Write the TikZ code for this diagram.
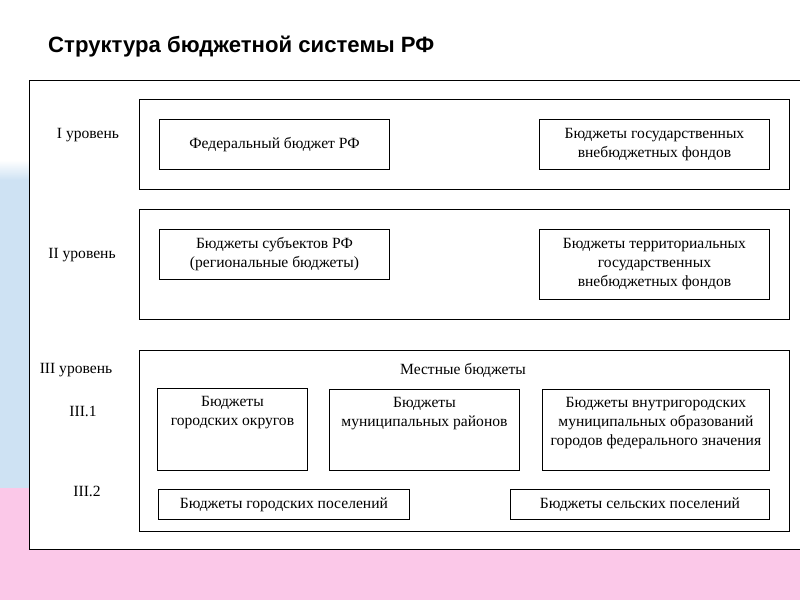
\documentclass[tikz,border=0pt]{standalone}
\usepackage{fontspec}
\setmainfont{Liberation Serif}
\newfontfamily\titlefont{Liberation Sans}
\usepackage{tikz}
\definecolor{bgblue}{RGB}{206,226,243}
\definecolor{bgpink}{RGB}{251,200,232}
\newcommand{\px}{0.03cm}
\tikzset{%
  budget/.style   = {shape=rectangle, draw, align=center,%
                     anchor=north west, inner sep=0pt, line width=0.8pt},%
  levelbox/.style = {budget, fill=white},%
  caption/.style  = {align=center, inner sep=0pt},%
  toptext/.style  = {caption, anchor=north, yshift=-7pt}%
}

\begin{document}
\begin{tikzpicture}[x=0.03cm, y=-0.03cm,
	every node/.style = {font=\fontsize{13.3}{16.2}\selectfont}]
	\useasboundingbox (0,0) rectangle (800,600);
	% slide background
	\fill[white] (0,0) rectangle (800,600);
	\shade[top color=white, bottom color=bgblue] (0,160) rectangle (29,180);
	\fill[bgblue] (0,180) rectangle (29,490);
	\fill[bgpink] (0,488) rectangle (800,600);
	\node[caption, anchor=west, font=\titlefont\bfseries\fontsize{18.9}{22}\selectfont] (title) at (48,47) {Структура бюджетной системы РФ};
	% outer frame, cut off at the right
	\fill[white] (29,80) rectangle (800,549);
	\draw[line width=0.8pt] (800,80) -- (29,80) -- (29,549) -- (800,549);
	% I
	\node[levelbox, minimum width=650*\px, minimum height=90*\px] (levelI) at (139,99) {};
	\node[caption] (lblI) at (88,135) {I уровень};
	\node[budget, minimum width=230*\px, minimum height=50*\px] (fed) at (159,119) {Федеральный бюджет РФ};
	\node[budget, minimum width=230*\px, minimum height=50*\px] (vnebfond) at (539,119) {Бюджеты государственных\\внебюджетных фондов};
	% II
	\node[levelbox, minimum width=650*\px, minimum height=110*\px] (levelII) at (139,209) {};
	\node[caption] (lblII) at (82,255) {II уровень};
	\node[budget, minimum width=230*\px, minimum height=50*\px] (subj) at (159,229) {Бюджеты субъектов РФ\\(региональные бюджеты)};
	\node[budget, minimum width=230*\px, minimum height=70*\px] (terrfond) at (539,229) {Бюджеты территориальных\\государственных\\внебюджетных фондов};
	% III
	\node[levelbox, minimum width=650*\px, minimum height=181*\px] (levelIII) at (139,350) {};
	\node[caption] (lblIII) at (76,370) {III уровень};
	\node[caption] (lblIIIa) at (83,411) {III.1};
	\node[caption] (lblIIIb) at (87,491) {III.2};
	\node[caption] (local) at (463,370) {Местные бюджеты};
	\node[budget, minimum width=150*\px, minimum height=82*\px] (okrug) at (157,388) {};
	\node[toptext] (okrugtxt) at (okrug.north) {Бюджеты\\городских округов};
	\node[budget, minimum width=190*\px, minimum height=81*\px] (munrai) at (329,389) {};
	\node[toptext] (munraitxt) at (munrai.north) {Бюджеты\\муниципальных районов};
	\node[budget, minimum width=227*\px, minimum height=81*\px] (vnutri) at (542,389) {};
	\node[toptext] (vnutritxt) at (vnutri.north) {Бюджеты внутригородских\\муниципальных образований\\городов федерального значения};
	\node[budget, minimum width=251*\px, minimum height=30*\px] (gorpos) at (158,489) {Бюджеты городских поселений};
	\node[budget, minimum width=259*\px, minimum height=30*\px] (selpos) at (510,489) {Бюджеты сельских поселений};
\end{tikzpicture}
\end{document}
